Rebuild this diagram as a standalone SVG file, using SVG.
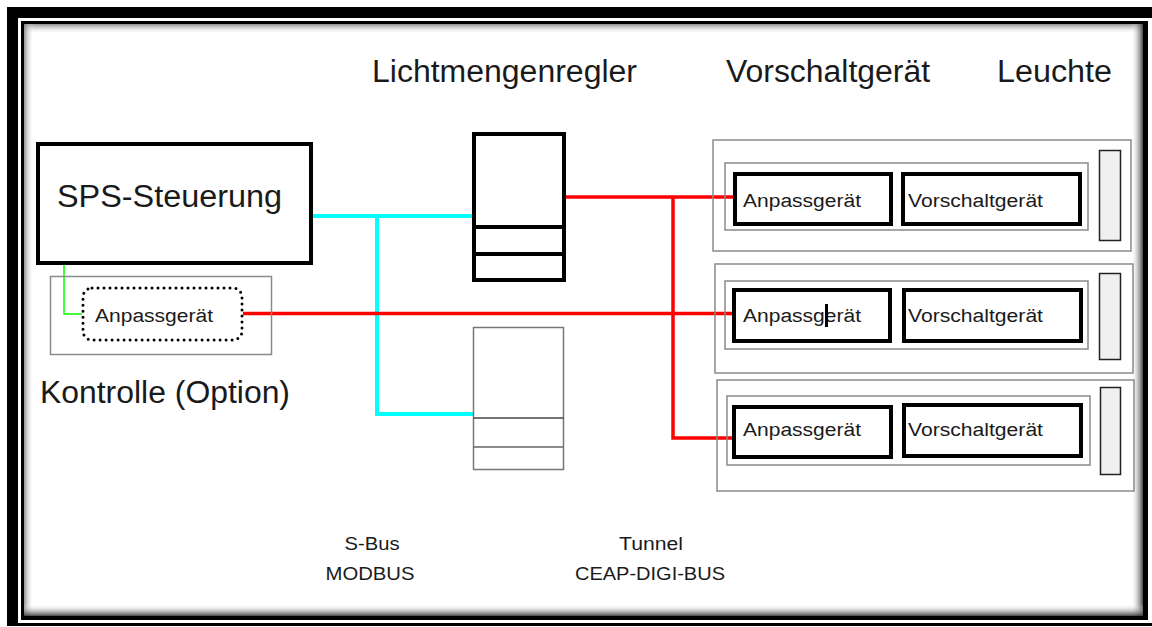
<svg xmlns="http://www.w3.org/2000/svg" width="1152" height="627" viewBox="0 0 1152 627">
<style>
text{font-family:"Liberation Sans",Arial,sans-serif;fill:#1a1a1a}
.big{font-size:31px}
.sm{font-size:18px}
.box{fill:#fff;stroke:#000;stroke-width:4}
.grey{fill:none;stroke:#8a8a8a;stroke-width:1.5}
.lamp{fill:#f0f0f0;stroke:#222;stroke-width:1.5}
.red{fill:none;stroke:#ff0000;stroke-width:3.5}
.cyan{fill:none;stroke:#00ffff;stroke-width:4}
.green{fill:none;stroke:#00ff00;stroke-width:1.5}
</style>
<defs>
<linearGradient id="gT" x1="0" y1="0" x2="0" y2="1"><stop offset="0" stop-color="#777" stop-opacity="0.8"/><stop offset="1" stop-color="#fff" stop-opacity="0"/></linearGradient>
<linearGradient id="gL" x1="0" y1="0" x2="1" y2="0"><stop offset="0" stop-color="#777" stop-opacity="0.8"/><stop offset="1" stop-color="#fff" stop-opacity="0"/></linearGradient>
<linearGradient id="gR" x1="1" y1="0" x2="0" y2="0"><stop offset="0" stop-color="#333" stop-opacity="0.9"/><stop offset="1" stop-color="#fff" stop-opacity="0"/></linearGradient>
<linearGradient id="gB" x1="0" y1="1" x2="0" y2="0"><stop offset="0" stop-color="#333" stop-opacity="0.9"/><stop offset="1" stop-color="#fff" stop-opacity="0"/></linearGradient>
</defs>
<rect x="0" y="0" width="1152" height="627" fill="#fff"/>
<g id="frame">
<rect x="7" y="7" width="1145" height="619" fill="#000"/>
<rect x="18" y="18" width="1134" height="605" fill="#fff"/>
<rect x="22.5" y="22.5" width="1123" height="596" fill="#fff" stroke="#000" stroke-width="3"/>
<rect x="1143" y="21" width="5" height="599" fill="#000"/>
<rect x="21" y="616" width="1127" height="4" fill="#000"/>
<rect x="24" y="24" width="1119" height="10" fill="url(#gT)"/>
<rect x="24" y="24" width="10" height="592" fill="url(#gL)"/>
<rect x="1131" y="24" width="12" height="592" fill="url(#gR)"/>
<rect x="24" y="604" width="1119" height="12" fill="url(#gB)"/>
</g>
<g id="titles">
<text class="big" x="372" y="82" textLength="265" lengthAdjust="spacingAndGlyphs">Lichtmengenregler</text>
<text class="big" x="726" y="82" textLength="204" lengthAdjust="spacingAndGlyphs">Vorschaltgerät</text>
<text class="big" x="997" y="82" textLength="115" lengthAdjust="spacingAndGlyphs">Leuchte</text>
</g>
<g id="connectors">
<polyline class="cyan" points="313,216 473,216"/>
<polyline class="cyan" points="377,216 377,414 473,414"/>
<polyline class="green" points="64,265 64,314 82,314"/>
<polyline class="red" points="243,313.5 733,313.5"/>
<polyline class="red" points="566,197 733,197"/>
<polyline class="red" points="673,197 673,438 733,438"/>
</g>
<g id="sps">
<rect class="box" x="38" y="144" width="273" height="119"/>
<text class="big" x="57" y="207" textLength="225" lengthAdjust="spacingAndGlyphs">SPS-Steuerung</text>
</g>
<g id="kontrolle">
<rect class="grey" x="50.5" y="276.5" width="221" height="78"/>
<rect x="83" y="288" width="159" height="52" rx="9" fill="#fff" stroke="#000" stroke-width="3" stroke-dasharray="0 6" stroke-linecap="round"/>
<text class="sm" x="95" y="322" textLength="118" lengthAdjust="spacingAndGlyphs">Anpassgerät</text>
<text class="big" x="40" y="403" textLength="250" lengthAdjust="spacingAndGlyphs">Kontrolle (Option)</text>
</g>
<g id="lmr1">
<rect class="box" x="474" y="134" width="90" height="146"/>
<line x1="474" y1="227" x2="564" y2="227" stroke="#000" stroke-width="4"/>
<line x1="474" y1="254" x2="564" y2="254" stroke="#000" stroke-width="4"/>
</g>
<g id="lmr2">
<rect x="473.5" y="327.5" width="90" height="142" fill="#fff" stroke="#777" stroke-width="1.5"/>
<line x1="473.5" y1="418" x2="563.5" y2="418" stroke="#444" stroke-width="1.5"/>
<line x1="473.5" y1="447" x2="563.5" y2="447" stroke="#666" stroke-width="1.5"/>
</g>
<g id="leuchte1">
<rect class="grey" x="713" y="140" width="418" height="111"/>
<rect class="grey" x="725" y="163" width="363" height="67"/>
<rect class="box" x="735" y="174" width="156" height="50"/>
<rect class="box" x="903" y="174" width="177" height="50"/>
<rect class="lamp" x="1099.5" y="150.5" width="21" height="90"/>
<text class="sm" x="743" y="207" textLength="118" lengthAdjust="spacingAndGlyphs">Anpassgerät</text>
<text class="sm" x="908" y="207" textLength="135" lengthAdjust="spacingAndGlyphs">Vorschaltgerät</text>
</g>
<g id="leuchte2">
<rect class="grey" x="715" y="264" width="418" height="109"/>
<rect class="grey" x="725" y="281" width="363" height="68"/>
<rect class="box" x="734" y="290" width="156" height="51"/>
<rect class="box" x="904" y="290" width="177" height="51"/>
<rect class="lamp" x="1099.5" y="273.5" width="21" height="86"/>
<text class="sm" x="743" y="322" textLength="118" lengthAdjust="spacingAndGlyphs">Anpassgerät</text>
<text class="sm" x="908" y="322" textLength="135" lengthAdjust="spacingAndGlyphs">Vorschaltgerät</text>
<rect x="825" y="304" width="3" height="23" fill="#000"/>
</g>
<g id="leuchte3">
<rect class="grey" x="717" y="380" width="417" height="111"/>
<rect class="grey" x="727" y="396" width="363" height="69"/>
<rect class="box" x="734" y="407" width="157" height="50"/>
<rect class="box" x="904" y="405" width="177" height="51"/>
<rect class="lamp" x="1100.5" y="387.5" width="20" height="87"/>
<text class="sm" x="743" y="436" textLength="118" lengthAdjust="spacingAndGlyphs">Anpassgerät</text>
<text class="sm" x="908" y="436" textLength="135" lengthAdjust="spacingAndGlyphs">Vorschaltgerät</text>
</g>
<g id="buslabels">
<text class="sm" x="372" y="550" text-anchor="middle" textLength="55" lengthAdjust="spacingAndGlyphs">S-Bus</text>
<text class="sm" x="370" y="580" text-anchor="middle" textLength="89" lengthAdjust="spacingAndGlyphs">MODBUS</text>
<text class="sm" x="651" y="550" text-anchor="middle" textLength="64" lengthAdjust="spacingAndGlyphs">Tunnel</text>
<text class="sm" x="650" y="580" text-anchor="middle" textLength="150" lengthAdjust="spacingAndGlyphs">CEAP-DIGI-BUS</text>
</g>
</svg>
